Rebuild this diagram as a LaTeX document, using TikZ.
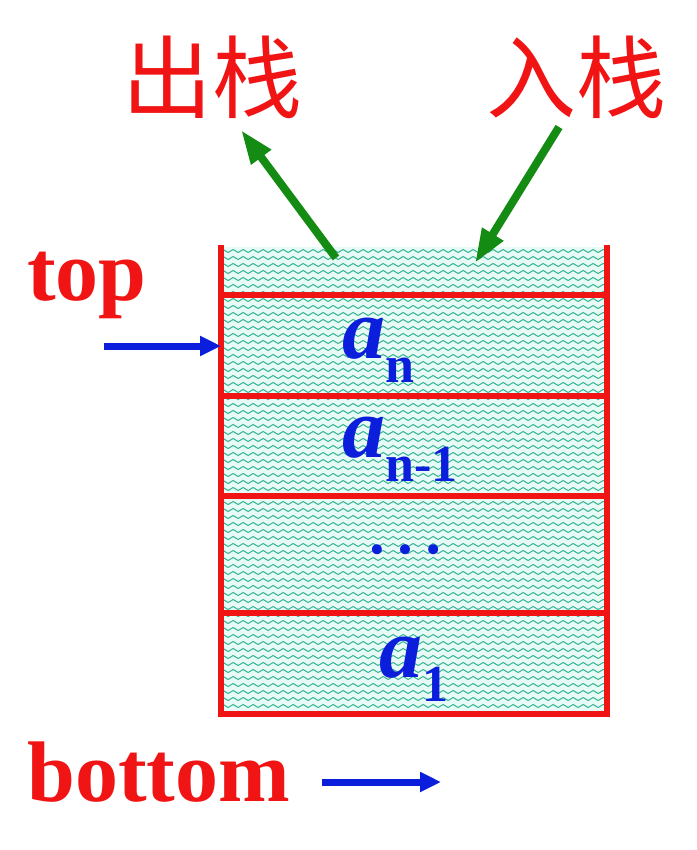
\documentclass[tikz,border=0pt]{standalone}
\usepackage{fontspec}
\setmainfont{Liberation Serif}
\newfontfamily\cjk{Noto Sans CJK SC}
\usetikzlibrary{decorations.pathmorphing,arrows.meta}
\definecolor{stackred}{RGB}{240,20,20}
\definecolor{elemblue}{RGB}{10,30,220}
\definecolor{arrgreen}{RGB}{20,140,20}
\definecolor{wavecol}{RGB}{55,180,150}
\definecolor{cellbg}{RGB}{232,250,245}
\tikzset{
  wall/.style={draw=stackred,line width=6pt},
  wave/.style={draw=wavecol,line width=1pt,decorate,decoration={snake,amplitude=1.5pt,segment length=10pt}},
  bluearrow/.style={draw=elemblue,line width=7pt,-{Triangle[length=21pt,width=19pt]}},
  greenarrow/.style={draw=arrgreen,line width=8pt,-{Triangle[length=34pt,width=23pt]}},
  redlabel/.style={text=stackred,font=\fontsize{86}{86}\selectfont\bfseries,inner sep=0pt},
  cjklabel/.style={text=stackred,font=\fontsize{90}{90}\selectfont\cjk,inner sep=0pt},
  elem/.style={text=elemblue,inner sep=0pt,font=\fontsize{86}{86}\selectfont\bfseries},
}
\newcommand{\subs}[1]{\raisebox{-24pt}{\fontsize{52}{52}\selectfont\bfseries\upshape #1}}
\begin{document}
\begin{tikzpicture}[x=1pt,y=-1pt]
\useasboundingbox[fill=white] (0,0) rectangle (696,850);
% cell background and waves
\fill[cellbg] (223,247) rectangle (605,712);
\begin{scope}
\clip (223,247) rectangle (605,712);
\foreach \yy in {251,258,...,712} {
  \draw[wave] (220,\yy) -- (610,\yy);
}
\end{scope}
% stack walls
\draw[wall,line join=miter] (221,245) -- (221,714) -- (607,714) -- (607,245);
\foreach \yy in {295,396,496,613} {
  \draw[wall] (221,\yy) -- (607,\yy);
}
% coordinates
\coordinate (popstart) at (336,258);
\coordinate (popend) at (241,130);
\coordinate (pushstart) at (559,127);
\coordinate (pushend) at (475,263);
\coordinate (topstart) at (104,346);
\coordinate (topend) at (221,346);
\coordinate (botstart) at (322,782);
\coordinate (botend) at (441,782);
% labels
\node[cjklabel] (pop) at (212,77) {出栈};
\node[cjklabel] (push) at (576,77) {入栈};
\node[redlabel,anchor=base west] (top) at (27,300) {top};
\node[redlabel,anchor=base west] (bottom) at (27,801) {bottom};
% elements
\node[elem,anchor=base west] (an) at (342,358) {\itshape a\subs{n}};
\node[elem,anchor=base west] (an1) at (342,457) {\itshape a\subs{n-1}};
\node[elem,anchor=base,font=\fontsize{84}{84}\selectfont] (dots) at (405,553) {…};
\node[elem,anchor=base west] (a1) at (379,677) {\itshape a\subs{1}};
% arrows
\draw[greenarrow] (popstart) -- (popend);
\draw[greenarrow] (pushstart) -- (pushend);
\draw[bluearrow] (topstart) -- (topend);
\draw[bluearrow] (botstart) -- (botend);
\end{tikzpicture}
\end{document}
